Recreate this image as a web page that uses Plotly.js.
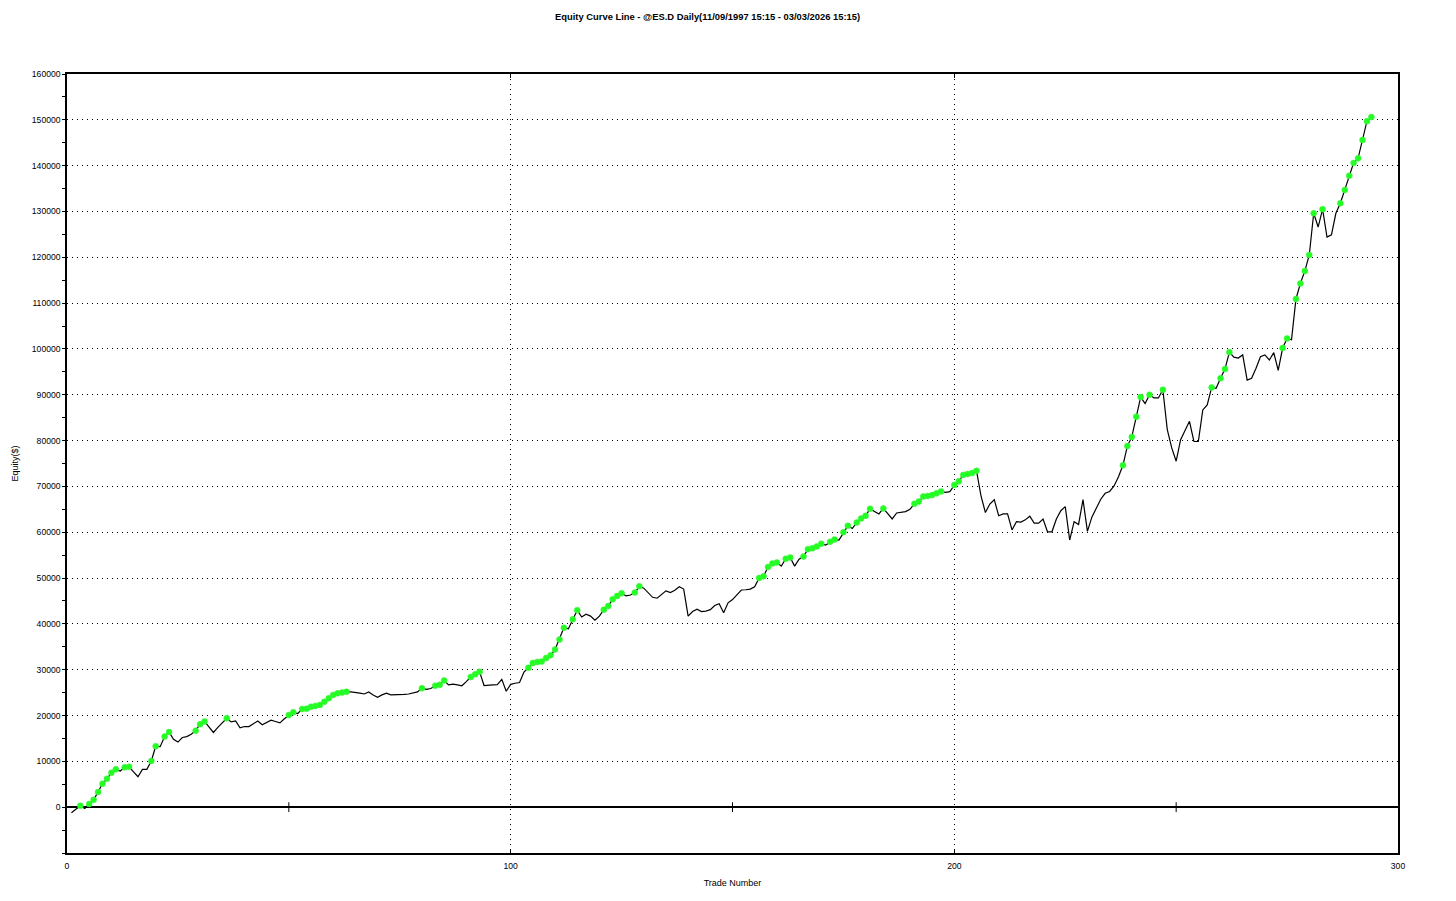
<!DOCTYPE html>
<html>
<head>
<meta charset="utf-8">
<script src="https://cdn.plot.ly/plotly-3.0.1.min.js"></script>
<style>html,body{margin:0;padding:0;background:#fff;}#chart{width:1456px;height:901px;}</style>
</head>
<body>
<div id="chart"></div>
<script>
// Equity after each closed trade (trade numbers 1..294), in $
const equity = [
  -1200, -500, 300, -300, 700, 1600, 3300, 5100, 6200, 7500,
  8250, 7900, 8700, 8800, 7700, 6650, 8250, 8250, 10070, 13300,
  13200, 15400, 16400, 14800, 14200, 15200, 15400, 15900, 16700, 18100,
  18700, 17500, 16300, 17400, 18400, 19400, 18600, 18800, 17300, 17600,
  17600, 18200, 18800, 18000, 18500, 19000, 18700, 18400, 19300, 20100,
  20700, 20450, 21400, 21500, 21900, 22100, 22300, 23000, 23750, 24500,
  24850, 25000, 25200, 25150, 25100, 24900, 24700, 25150, 24500, 24000,
  24500, 24900, 24500, 24500, 24550, 24600, 24700, 25000, 25150, 25950,
  25700, 25900, 26500, 26700, 27650, 26700, 26850, 26700, 26500, 27400,
  28400, 29000, 29550, 26550, 26700, 26700, 26750, 27900, 25300, 26800,
  27050, 27200, 29500, 30400, 31450, 31700, 31800, 32550, 33150, 34400,
  36600, 39150, 38900, 41000, 43000, 41500, 42100, 41700, 40800, 41700,
  43100, 43900, 45400, 46100, 46700, 46100, 46300, 46850, 48200, 47800,
  46800, 45800, 45600, 46500, 47200, 46850, 47350, 48100, 47600, 41700,
  42700, 43200, 42700, 42800, 43100, 44000, 44400, 42450, 44600, 45300,
  46400, 47400, 47450, 47600, 48100, 50000, 50400, 52400, 53200, 53400,
  52600, 54200, 54500, 52600, 54100, 54700, 56300, 56500, 56900, 57500,
  57200, 57900, 58400, 58300, 60000, 61400, 60800, 62100, 63000, 63600,
  65100, 64500, 64000, 65200, 64000, 62900, 64200, 64400, 64500, 65000,
  66200, 66700, 67800, 67900, 68100, 68500, 68900, 68700, 68850, 70300,
  71100, 72500, 72700, 72900, 73400, 68000, 64300, 66150, 67100, 63600,
  64000, 64000, 60500, 62300, 62200, 62700, 63500, 62000, 62000, 62900,
  60100, 60100, 62900, 64700, 65600, 58300, 62300, 61700, 67100, 60200,
  63300, 65200, 67200, 68500, 68900, 70100, 72100, 74600, 78800, 80800,
  85200, 89500, 88100, 90000, 89300, 89300, 91100, 82400, 78400, 75500,
  80200, 82200, 84200, 79800, 79800, 86700, 87800, 91600, 91400, 93600,
  95600, 99300, 98200, 98000, 98700, 93200, 93600, 95800, 98300, 98700,
  97600, 99200, 95300, 100200, 102300, 102000, 110900, 114300, 117000, 120500,
  129600, 126600, 130500, 124400, 124900, 129600, 131800, 134700, 137800, 140600,
  141600, 145600, 149700, 150600
];
const trades = equity.map((_, i) => i + 1);

const titleText = "Equity Curve Line - @ES.D Daily(11/09/1997 15:15 - 03/03/2026 15:15)";
const xTitle = "Trade Number";
const yTitle = "Equity($)";
const xTickVals = [0, 100, 200, 300];
const yTickVals = [0, 10000, 20000, 30000, 40000, 50000, 60000, 70000, 80000, 90000, 100000, 110000, 120000, 130000, 140000, 150000, 160000];

// New equity highs (green markers)
const hiX = [], hiY = [];
let peak = 0;
equity.forEach((v, i) => { if (v > peak) { peak = v; hiX.push(trades[i]); hiY.push(v); } });

const FONT = "Arial, 'Liberation Sans', sans-serif";

const data = [
  { x: trades, y: equity, type: 'scatter', mode: 'lines',
    line: { color: '#000000', width: 1.2 }, hoverinfo: 'x+y', showlegend: false },
  { x: hiX, y: hiY, type: 'scatter', mode: 'markers',
    marker: { color: '#22ff22', size: 6, line: { color: '#44ee44', width: 0.5 } },
    showlegend: false },
  { x: [50, 150, 250], y: [0, 0, 0], type: 'scatter', mode: 'markers',
    marker: { symbol: 'line-ns', size: 7, line: { color: '#000', width: 1 } },
    hoverinfo: 'skip', showlegend: false }
];

const layout = {
  width: 1456, height: 901,
  paper_bgcolor: '#ffffff', plot_bgcolor: '#ffffff',
  margin: { l: 67, r: 58, t: 74, b: 48, pad: 0 },
  font: { family: FONT, size: 9, color: '#000' },
  title: { text: '<b>' + titleText + '</b>', x: 0.486, xanchor: 'center', y: 0.981, yanchor: 'middle',
           font: { family: FONT, size: 9.4, color: '#000' } },
  xaxis: {
    range: [0, 300], tickvals: xTickVals, ticktext: xTickVals.map(String),
    showgrid: true, gridcolor: '#000', gridwidth: 1, griddash: '1px,4px',
    showline: true, linecolor: '#000', linewidth: 1.5, mirror: 'ticks',
    ticks: 'inside', ticklen: 4, tickcolor: '#000', ticklabelstandoff: 4,
    zeroline: false, tickfont: { family: FONT, size: 8.6 },
    title: { text: xTitle, font: { family: FONT, size: 9 }, standoff: 10 }
  },
  yaxis: {
    range: [-10000, 160000], tickvals: yTickVals, ticktext: yTickVals.map(String),
    showgrid: true, gridcolor: '#000', gridwidth: 1, griddash: '1px,4px',
    showline: true, linecolor: '#000', linewidth: 1.5, mirror: true,
    ticks: 'outside', ticklen: 3, tickcolor: '#000',
    minor: { dtick: 5000, ticks: 'outside', ticklen: 3, tickcolor: '#000', showgrid: false },
    zeroline: true, zerolinecolor: '#000', zerolinewidth: 1.5,
    tickfont: { family: FONT, size: 8.6 },
    title: { text: yTitle, font: { family: FONT, size: 9 }, standoff: 12 }
  },
  hovermode: 'closest'
};

Plotly.newPlot('chart', data, layout, { displayModeBar: false });
</script>
</body>
</html>
